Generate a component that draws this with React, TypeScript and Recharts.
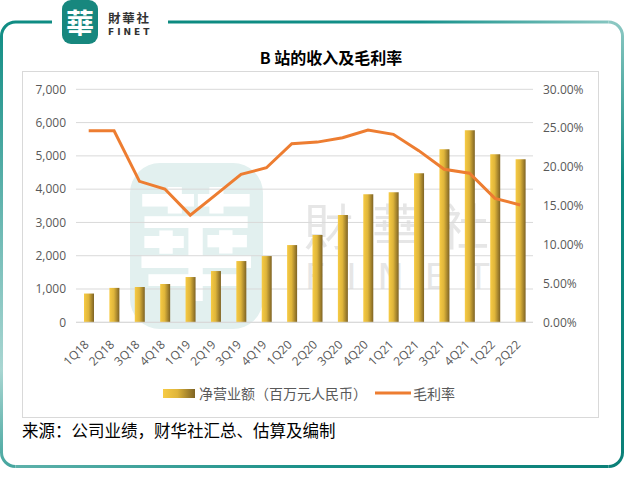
import React from 'react';
import { ComposedChart, Bar, Line, XAxis, YAxis, CartesianGrid } from 'recharts';

const categories = ['1Q18', '2Q18', '3Q18', '4Q18', '1Q19', '2Q19', '3Q19', '4Q19', '1Q20', '2Q20', '3Q20', '4Q20', '1Q21', '2Q21', '3Q21', '4Q21', '1Q22', '2Q22'];
const revenue = [864, 1034, 1060, 1150, 1360, 1540, 1840, 1990, 2320, 2620, 3220, 3850, 3910, 4480, 5200, 5770, 5050, 4900];
const grossMargin = [24.66, 24.66, 18.15, 17.16, 13.8, 16.4, 19.05, 19.9, 23.0, 23.2, 23.76, 24.75, 24.2, 22.1, 19.7, 19.2, 15.96, 15.1];
const leftTicks = [0, 1000, 2000, 3000, 4000, 5000, 6000, 7000];
const rightTicks = [0, 5, 10, 15, 20, 25, 30];

const title = 'B 站的收入及毛利率';
const barName = '净营业额（百万元人民币）';
const lineName = '毛利率';
const source = '来源：公司业绩，财华社汇总、估算及编制';

const data = categories.map((c, i) => ({ name: c, revenue: revenue[i], margin: grossMargin[i] }));

const CJK = '"Noto Sans CJK SC", "Noto Sans", sans-serif';
const NUM = '"Open Sans", "Noto Sans", sans-serif';
const AXIS_COLOR = '#595959';

const XTick = (props: any) => {
  const { x, y, payload } = props;
  const ax = x + 1;
  const ay = y + 15;
  return (
    <text x={ax} y={ay} transform={`rotate(-45 ${ax} ${ay})`} textAnchor="end" fill={AXIS_COLOR} fontSize={12} fontFamily={NUM}>
      {payload.value}
    </text>
  );
};

const Frame = () => (
  <svg width={625} height={491} style={{ position: 'absolute', left: 0, top: 0 }}>
    <defs>
      <linearGradient id="fLeft" gradientUnits="userSpaceOnUse" x1="0" y1="22" x2="0" y2="467">
        <stop offset="0" stopColor="#0f8c83" />
        <stop offset="0.55" stopColor="#7fc2bd" />
        <stop offset="0.78" stopColor="#a9d6d2" />
        <stop offset="1" stopColor="#45a59e" />
      </linearGradient>
      <linearGradient id="fBottom" gradientUnits="userSpaceOnUse" x1="15" y1="0" x2="610" y2="0">
        <stop offset="0" stopColor="#5db1aa" />
        <stop offset="0.5" stopColor="#1a9088" />
        <stop offset="1" stopColor="#0b8078" />
      </linearGradient>
      <linearGradient id="fRight" gradientUnits="userSpaceOnUse" x1="0" y1="22" x2="0" y2="467">
        <stop offset="0" stopColor="#8cc8c3" />
        <stop offset="0.35" stopColor="#0d8a80" />
        <stop offset="1" stopColor="#0b8078" />
      </linearGradient>
      <linearGradient id="fTop" gradientUnits="userSpaceOnUse" x1="168" y1="0" x2="622" y2="0">
        <stop offset="0" stopColor="#0c8a80" />
        <stop offset="0.55" stopColor="#14908a" />
        <stop offset="1" stopColor="#8cc8c3" />
      </linearGradient>
    </defs>
    <path d="M52,22 H15.5 A14,14 0 0 0 1.5,36 V452.5 A14,14 0 0 0 15.5,466.5" fill="none" stroke="url(#fLeft)" strokeWidth={3} />
    <path d="M15.5,466.5 H608.5" fill="none" stroke="url(#fBottom)" strokeWidth={3} />
    <path d="M608.5,466.5 A14,14 0 0 0 622.5,452.5 V36 A14,14 0 0 0 608.5,22" fill="none" stroke="url(#fRight)" strokeWidth={3} />
    <path d="M168,22 H608.5" fill="none" stroke="url(#fTop)" strokeWidth={3} />
    {/* top logo */}
    <rect x={62} y={0} width={36} height={44} rx={9} fill="#17877e" />
    <text x={80} y={34} textAnchor="middle" fontSize={28} fontWeight={700} fill="#ffffff" fontFamily='"Noto Sans CJK TC", sans-serif'>華</text>
    <text x={108} y={23} fontSize={12.5} fontWeight={700} fill="#333333" fontFamily='"Noto Sans CJK TC", sans-serif' letterSpacing={1.8}>財華社</text>
    <text x={108} y={34.5} fontSize={9} fontWeight={700} fill="#333333" fontFamily='"DejaVu Sans", sans-serif' letterSpacing={3}>FINET</text>
  </svg>
);

const Watermark = () => (
  <svg width={625} height={491} style={{ position: 'absolute', left: 0, top: 0 }}>
    <rect x={130} y={163} width={133} height={166} rx={30} fill="#e2f0ef" />
    <text x={196} y={290} textAnchor="middle" fontSize={120} fontWeight={700} fill="#ffffff" fontFamily='"Noto Sans CJK TC", sans-serif'>華</text>
    <text x={304} y={245} fontSize={49} fill="#e6e6e6" fontFamily='"Noto Sans CJK TC", sans-serif' letterSpacing={19}>財華社</text>
    <text x={305} y={289} fontSize={35} fill="#e6e6e6" fontFamily='"DejaVu Sans", sans-serif' letterSpacing={21}>FINET</text>
  </svg>
);

export default function App() {
  return (
    <div style={{ position: 'absolute', left: 0, top: 0, width: 625, height: 491, background: '#ffffff', overflow: 'hidden' }}>
      <Frame />
      <div style={{ position: 'absolute', left: 22, top: 71, width: 575, height: 345, border: '1px solid #d9d9d9' }} />
      <Watermark />
      <div style={{ position: 'absolute', left: 0, width: 662, top: 46, textAlign: 'center', fontFamily: CJK, fontWeight: 700, fontSize: 16, lineHeight: '22px', color: '#000' }}>
        {title}
      </div>
      <div style={{ position: 'absolute', left: 0, top: 0 }}>
        <ComposedChart width={625} height={491} data={data} margin={{ top: 89.3, right: 0, bottom: 108.7, left: 0 }}>
          <defs>
            <linearGradient id="barGrad" x1="0" y1="0" x2="1" y2="0">
              <stop offset="0" stopColor="#f7cb44" />
              <stop offset="0.45" stopColor="#dfb53a" />
              <stop offset="1" stopColor="#7e6324" />
            </linearGradient>
          </defs>
          <CartesianGrid vertical={false} stroke="#d9d9d9" yAxisId="left" />
          <XAxis dataKey="name" height={60} interval={0} tickLine={false} axisLine={{ stroke: '#d9d9d9' }} tick={<XTick />} />
          <YAxis yAxisId="left" width={76} domain={[0, 7000]} ticks={leftTicks} tickLine={false} axisLine={false} tickMargin={4}
            tick={{ fill: AXIS_COLOR, fontSize: 12, fontFamily: NUM }} tickFormatter={(v: number) => v.toLocaleString('en-US')} />
          <YAxis yAxisId="right" orientation="right" width={92} domain={[0, 30]} ticks={rightTicks} tickLine={false} axisLine={false} tickMargin={4}
            tick={{ fill: AXIS_COLOR, fontSize: 12, fontFamily: NUM, textAnchor: 'start' }} tickFormatter={(v: number) => `${v.toFixed(2)}%`} />
          <Bar yAxisId="left" dataKey="revenue" name={barName} fill="url(#barGrad)" barSize={10} isAnimationActive={false} />
          <Line yAxisId="right" dataKey="margin" name={lineName} type="linear" stroke="#ed7d31" strokeWidth={3} dot={false} activeDot={false} isAnimationActive={false} />
        </ComposedChart>
      </div>
      {/* legend */}
      <svg width={625} height={30} style={{ position: 'absolute', left: 0, top: 378 }}>
        <defs>
          <linearGradient id="legGrad" x1="0" y1="0" x2="1" y2="0">
            <stop offset="0" stopColor="#f7cb44" />
            <stop offset="0.45" stopColor="#dfb53a" />
            <stop offset="1" stopColor="#7e6324" />
          </linearGradient>
        </defs>
        <rect x={163} y={11} width={32} height={9} fill="url(#legGrad)" />
        <text x={199} y={20.5} fontSize={14} fill={AXIS_COLOR} fontFamily={CJK}>{barName}</text>
        <line x1={375} x2={411} y1={15} y2={15} stroke="#ed7d31" strokeWidth={3} />
        <text x={413} y={20.5} fontSize={14} fill={AXIS_COLOR} fontFamily={CJK}>{lineName}</text>
      </svg>
      <div style={{ position: 'absolute', left: 22, top: 419, fontFamily: CJK, fontSize: 16.5, lineHeight: '22px', color: '#000', whiteSpace: 'nowrap' }}>
        {source}
      </div>
    </div>
  );
}
